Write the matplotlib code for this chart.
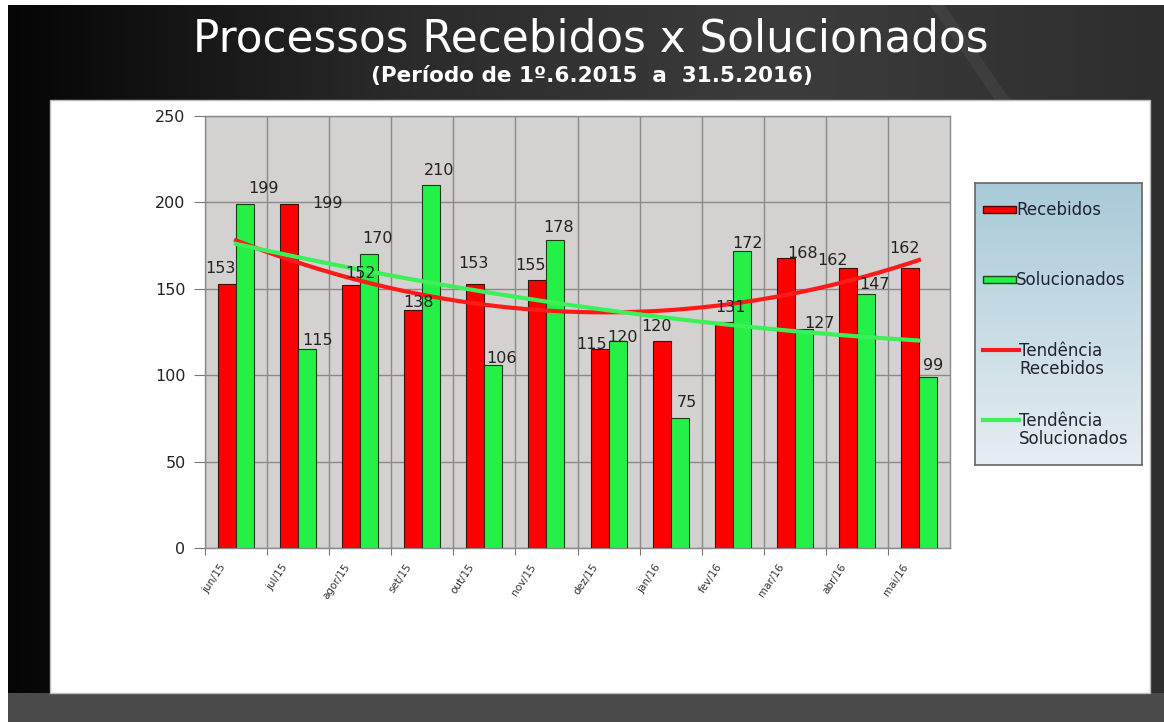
import numpy as np
import matplotlib
matplotlib.use("Agg")
import matplotlib.pyplot as plt
from matplotlib.patches import Rectangle, Polygon
from matplotlib.lines import Line2D

months = ["jun/15", "jul/15", "agor/15", "set/15", "out/15", "nov/15",
          "dez/15", "jan/16", "fev/16", "mar/16", "abr/16", "mai/16"]
recebidos = [153, 199, 152, 138, 153, 155, 115, 120, 131, 168, 162, 162]
solucionados = [199, 115, 170, 210, 106, 178, 120, 75, 172, 127, 147, 99]
yticks = [0, 50, 100, 150, 200, 250]

title = "Processos Recebidos x Solucionados"
subtitle = "(Período de 1º.6.2015  a  31.5.2016)"

# label nudges (pixels) relative to bar centre / bar top
red_lbl_dx = [-7, 38, 9, 5, -2, -7, -8, -5, 7, 17, -15, -5]
red_lbl_dy = [11, -4, 7, 3, 16, 10, 0, 10, 10, 0, 3, 15]
grn_lbl_dx = [18, 10, 8, 8, 8, 3, 5, 7, 6, 16, 9, 5]
grn_lbl_dy = [11, 4, 11, 10, 2, 8, -1, 11, 3, 1, 5, 7]

FAM = ["DejaVu Sans"]

W, H = 1164, 722
fig = plt.figure(figsize=(W / 100, H / 100), dpi=100)
fig.patch.set_facecolor("white")

# background
bg = fig.add_axes([0, 0, 1, 1])
bg.set_xlim(0, W)
bg.set_ylim(H, 0)
bg.axis("off")
grad = np.linspace(0, 1, 256)[None, :]
bg.imshow(grad, extent=[8, W, 693, 5], aspect="auto",
          cmap=matplotlib.colors.LinearSegmentedColormap.from_list("g", ["#050505", "#2a2a2a", "#3c3c3c", "#2e2e2e"]),
          zorder=0)
bg.add_patch(Polygon([[930, 5], [945, 5], [1010, 100], [995, 100]], closed=True,
                     facecolor="#ffffff", alpha=0.05, edgecolor="none", zorder=1))
bg.add_patch(Rectangle((8, 693), W - 8, H - 693, facecolor="#4a4a4a", edgecolor="none", zorder=1))
bg.add_patch(Rectangle((50, 100), 1100, 593, facecolor="white", edgecolor="#bbbbbb", lw=1, zorder=2))
bg.text(591, 39, title, color="white", fontsize=31.5, ha="center", va="center",
        family=FAM, zorder=3)
bg.text(592, 76, subtitle, color="white", fontsize=15.5, ha="center", va="center",
        family=FAM, fontweight="bold", zorder=3)

# main plot
ax = fig.add_axes([205 / W, 1 - 548 / H, (950 - 205) / W, (548 - 116) / H])
ax.set_facecolor("#d4d2d0")
x = np.arange(len(months))
bw = 0.29
ax.bar(x - bw / 2, recebidos, bw, color="#ff0000", edgecolor="#3a1010", lw=0.8, zorder=3)
ax.bar(x + bw / 2, solucionados, bw, color="#25f048", edgecolor="#1a3a1a", lw=0.8, zorder=3)

fs = dict(fontsize=11.5, color="#222222", family=FAM, zorder=6)
for i, v in enumerate(recebidos):
    ax.annotate(str(v), (x[i] - bw / 2, v), xytext=(red_lbl_dx[i], red_lbl_dy[i]),
                textcoords="offset pixels", ha="center", va="baseline", **fs)
for i, v in enumerate(solucionados):
    ax.annotate(str(v), (x[i] + bw / 2, v), xytext=(grn_lbl_dx[i], grn_lbl_dy[i]),
                textcoords="offset pixels", ha="center", va="baseline", **fs)

# trend lines (2nd order polynomial)
t = np.arange(1, len(months) + 1)
ts = np.linspace(1, len(months), 200)
pr = np.polyfit(t, recebidos, 2)
ax.plot(ts - 1, np.polyval(pr, ts), color="#ff1a1a", lw=3, zorder=5)
ps = np.polyfit(t, solucionados, 2)
ax.plot(ts - 1, np.polyval(ps, ts), color="#3cf05a", lw=3, zorder=5)

ax.set_xlim(-0.5, len(months) - 0.5)
ax.set_ylim(0, 250)
ax.set_yticks(yticks)
ax.set_xticks(x - 0.5, minor=False)
ax.set_xticklabels([])
ax.set_xticks(x - 0.27, minor=True)
ax.set_xticklabels(months, minor=True, rotation=56, ha="right", rotation_mode="anchor",
                   fontsize=7.5, color="#333333", family=FAM)
ax.tick_params(axis="x", which="minor", length=0, pad=10)
ax.tick_params(axis="x", which="major", length=5, color="#777777", direction="out")
ax.tick_params(axis="y", length=8, color="#777777", labelsize=11.5, labelcolor="#222222", pad=6)
for lbl in ax.get_yticklabels():
    lbl.set_family(FAM)
ax.grid(True, which="major", color="#8a8a8a", lw=1, zorder=0)
ax.set_axisbelow(True)
for s in ax.spines.values():
    s.set_color("#8a8a8a")
    s.set_linewidth(1)

# legend box
lax = fig.add_axes([975 / W, 1 - 465 / H, (1142 - 975) / W, (465 - 183) / H])
lax.set_xlim(0, 167)
lax.set_ylim(282, 0)
lax.imshow(np.linspace(0, 1, 256)[:, None], extent=[0, 167, 282, 0], aspect="auto",
           cmap=matplotlib.colors.LinearSegmentedColormap.from_list("l", ["#a8cad8", "#e6eef2"]))
lax.set_xticks([])
lax.set_yticks([])
for s in lax.spines.values():
    s.set_color("#666666")
    s.set_linewidth(1.2)
lf = dict(fontsize=12, color="#222233", family=FAM, va="center")
lax.add_patch(Rectangle((8, 23), 33, 7, facecolor="#ff0000", edgecolor="#550000", lw=1))
lax.text(41, 27, "Recebidos", **lf)
lax.add_patch(Rectangle((8, 93), 33, 7, facecolor="#25f048", edgecolor="#1a4a1a", lw=1))
lax.text(41, 97, "Solucionados", **lf)
lax.add_line(Line2D([8, 44], [167, 167], color="#ff1a1a", lw=3))
lax.text(44, 177, "Tendência\nRecebidos", linespacing=1.05, **lf)
lax.add_line(Line2D([8, 44], [237, 237], color="#3cf05a", lw=3))
lax.text(44, 247, "Tendência\nSolucionados", linespacing=1.05, **lf)

fig.savefig("out.png", dpi=100)
